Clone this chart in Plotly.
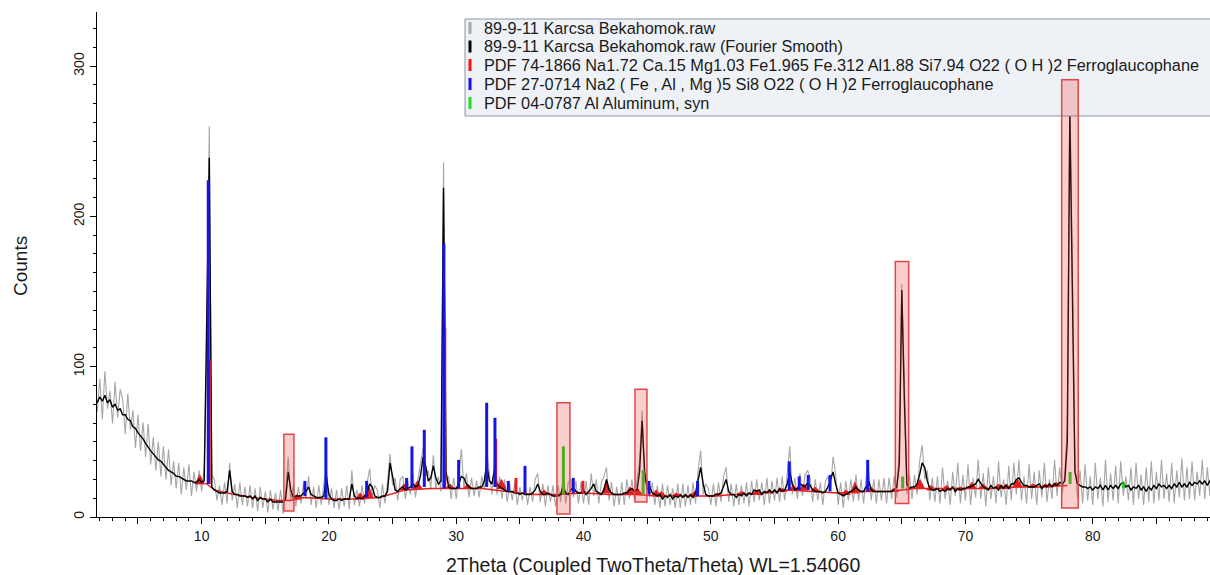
import numpy as np
import plotly.graph_objects as go

# ---------------- data ----------------
# 2theta grid: 1.8 .. 89.4 step 0.2
smooth_counts = [
    76, 80, 77, 81, 76, 78, 73, 75, 71, 72,      # 1.8-3.6
    68, 68, 65, 64, 60, 59, 56, 54, 52, 49,      # 3.8-5.6
    46, 44, 42, 40, 38, 37, 35, 33, 31, 30,      # 5.8-7.6
    29, 27, 27, 26, 25, 24, 24, 24, 23, 23,      # 7.8-9.6
    25, 23, 24, 120, 239, 20, 18, 17, 16, 16,    # 9.8-11.6
    16, 17, 31, 17, 15, 15, 14, 14, 14, 13,      # 11.8-13.6
    14, 12, 14, 11, 13, 12, 12, 10, 12, 10,      # 13.8-15.6
    10, 10, 10, 10, 12, 30, 18, 13, 14, 14,      # 15.8-17.6
    14, 16, 17, 20, 15, 14, 13, 13, 13, 14,      # 17.8-19.6
    27, 15, 12, 11, 11, 12, 11, 12, 12, 12,      # 19.8-21.6
    22, 14, 12, 13, 12, 14, 16, 22, 20, 14,      # 21.8-23.6
    13, 13, 14, 14, 17, 36, 28, 18, 17, 19,      # 23.8-25.6
    20, 18, 19, 20, 22, 20, 21, 28, 40, 34,      # 25.8-27.6
    24, 26, 34, 26, 22, 24, 219, 30, 20, 19,     # 27.8-29.6
    19, 19, 22, 27, 26, 22, 20, 19, 19, 19,      # 29.8-31.6
    20, 20, 24, 35, 24, 22, 31, 22, 20, 19,      # 31.8-33.6
    18, 17, 17, 17, 16, 16, 15, 16, 15, 15,      # 33.8-35.6
    15, 16, 18, 22, 17, 15, 15, 16, 15, 14,      # 35.8-37.6
    14, 14, 15, 21, 16, 15, 18, 20, 17, 16,      # 37.8-39.6
    16, 18, 15, 17, 19, 22, 17, 16, 15, 18,      # 39.8-41.6
    25, 18, 16, 15, 15, 15, 15, 16, 16, 18,      # 41.8-43.6
    19, 17, 18, 30, 64, 30, 18, 20, 16, 15,      # 43.8-45.6
    14, 15, 12, 14, 13, 15, 12, 14, 13, 15,      # 45.8-47.6
    13, 15, 13, 15, 13, 16, 24, 33, 22, 15,      # 47.8-49.6
    14, 14, 14, 15, 15, 16, 20, 25, 17, 15,      # 49.8-51.6
    15, 13, 15, 14, 16, 14, 16, 15, 18, 17,      # 51.8-53.6
    18, 15, 17, 16, 18, 16, 18, 16, 19, 17,      # 53.8-55.6
    18, 22, 30, 22, 18, 19, 22, 21, 20, 23,      # 55.8-57.6
    21, 18, 17, 17, 17, 16, 17, 20, 25, 30,      # 57.8-59.6
    22, 16, 15, 14, 15, 16, 17, 18, 20, 18,      # 59.8-61.6
    17, 17, 20, 24, 18, 17, 17, 17, 17, 17,      # 61.8-63.6
    17, 17, 17, 18, 20, 35, 151, 78, 22, 19,     # 63.8-65.6
    20, 20, 22, 28, 36, 33, 24, 19, 18, 18,      # 65.8-67.6
    19, 17, 18, 17, 19, 18, 20, 17, 19, 18,      # 67.8-69.6
    19, 19, 20, 20, 21, 22, 25, 22, 20, 19,      # 69.8-71.6
    18, 21, 19, 20, 18, 21, 19, 21, 19, 22,      # 71.8-73.6
    22, 25, 26, 23, 21, 21, 20, 20, 20, 21,      # 73.8-75.6
    22, 19, 21, 20, 22, 20, 22, 21, 23, 22,      # 75.8-77.6
    24, 50, 268, 150, 30, 22, 21, 20, 20, 19,    # 77.8-79.6
    20, 18, 20, 19, 21, 18, 21, 18, 21, 19,      # 79.8-81.6
    21, 19, 22, 23, 20, 21, 18, 20, 19, 21,      # 81.8-83.6
    18, 20, 17, 20, 18, 21, 19, 22, 20, 21,      # 83.8-85.6
    19, 21, 19, 22, 20, 23, 20, 22, 20, 23,      # 85.8-87.6
    21, 23, 22, 24, 22, 24, 21, 24, 22,          # 87.8-89.4
]

raw_counts = [
    70, 92, 65, 97, 72, 84, 62, 90, 66, 85,
    78, 55, 82, 58, 71, 46, 68, 44, 63, 40,
    62, 35, 53, 31, 50, 27, 47, 25, 45, 21,
    37, 19, 36, 15, 33, 18, 35, 14, 30, 17,
    31, 17, 33, 110, 260, 28, 25, 11, 21, 8,
    23, 9, 36, 11, 22, 6, 23, 8, 20, 7,
    21, 6, 19, 4, 20, 6, 17, 3, 18, 5,
    16, 4, 18, 2, 17, 40, 11, 21, 7, 20,
    9, 22, 12, 27, 8, 20, 6, 21, 8, 22,
    31, 8, 19, 6, 18, 5, 19, 7, 21, 5,
    31, 8, 18, 7, 21, 9, 23, 32, 13, 21,
    18, 6, 22, 9, 23, 42, 21, 26, 11, 25,
    27, 12, 24, 15, 29, 13, 26, 35, 46, 27,
    31, 19, 41, 19, 27, 17, 236, 24, 27, 12,
    26, 12, 31, 45, 19, 29, 13, 26, 14, 24,
    13, 27, 19, 45, 29, 15, 38, 15, 27, 12,
    25, 10, 22, 11, 23, 8, 20, 11, 23, 8,
    20, 10, 25, 29, 10, 22, 7, 21, 10, 21,
    7, 21, 10, 27, 9, 23, 25, 13, 24, 9,
    23, 9, 24, 8, 29, 14, 25, 9, 23, 27,
    33, 11, 23, 7, 20, 8, 23, 8, 25, 12,
    25, 11, 25, 37, 71, 23, 25, 13, 23, 8,
    21, 6, 22, 7, 21, 8, 19, 6, 22, 6,
    22, 7, 21, 8, 23, 9, 31, 44, 15, 22,
    19, 8, 22, 7, 23, 10, 27, 33, 10, 22,
    7, 22, 8, 21, 9, 23, 7, 24, 10, 25,
    11, 23, 8, 26, 9, 24, 11, 26, 10, 27,
    11, 29, 47, 15, 26, 12, 29, 14, 28, 31,
    26, 10, 25, 11, 23, 8, 24, 27, 18, 40,
    29, 8, 23, 6, 24, 11, 25, 10, 28, 11,
    25, 9, 27, 31, 11, 25, 9, 25, 11, 26,
    9, 26, 12, 27, 13, 45, 155, 90, 15, 28,
    12, 28, 15, 37, 48, 25, 31, 11, 26, 10,
    27, 9, 33, 12, 24, 8, 30, 14, 36, 9,
    28, 11, 35, 8, 26, 13, 38, 12, 29, 7,
    33, 12, 27, 9, 37, 13, 25, 8, 34, 11,
    36, 15, 38, 11, 27, 9, 35, 12, 30, 8,
    31, 13, 36, 10, 25, 12, 38, 14, 33, 15,
    28, 60, 285, 160, 36, 13, 31, 9, 35, 11,
    27, 8, 36, 12, 26, 7, 38, 10, 29, 11,
    34, 9, 37, 14, 27, 11, 33, 8, 36, 12,
    28, 8, 33, 10, 37, 9, 30, 11, 38, 12,
    29, 10, 36, 9, 31, 13, 39, 11, 33, 12,
    37, 11, 30, 14, 38, 12, 33, 14, 35,
]

two_theta = np.round(1.8 + 0.2 * np.arange(len(smooth_counts)), 1)

# PDF 27-0714 (blue) sticks
blue_pos  = [10.52, 18.11, 19.76, 22.96, 26.10, 26.52, 27.49, 29.03, 30.19, 32.39,
             33.04, 34.09, 35.40, 39.19, 45.14, 48.96, 56.16, 56.94, 57.65, 59.36, 62.32]
blue_base = [22, 14, 12, 13, 19, 19, 20, 19, 19, 20,
             20, 17, 16, 16, 15, 14, 18, 18, 18, 17, 17]
blue_top  = [224, 24, 53, 24, 26, 47, 58, 182, 38, 76,
             66, 24, 34, 26, 24, 24, 37, 27, 28, 28, 38]

# PDF 74-1866 (red) sticks
red_pos  = [10.60, 29.10, 33.10, 34.69, 39.95]
red_base = [22, 19, 20, 16, 16]
red_top  = [104, 126, 52, 26, 24]

red_bump_pos  = [9.85, 17.5, 22.45, 23.1, 25.9, 26.95, 29.5, 30.9, 33.55, 36.9,
                 41.81, 43.64, 44.25, 45.7, 46.1, 47.3, 48.7, 50.5, 52.4, 53.6,
                 54.6, 55.6, 56.5, 57.3, 58.2, 60.6, 61.32, 62.6, 64.4, 66.43,
                 67.3, 68.5, 69.6, 70.5, 71.4, 72.6, 73.2, 74.1, 75.3, 76.3, 77.1]
red_bump_base = [22, 12, 12, 13, 18, 19, 19, 19, 19, 15,
                 16, 15, 15, 14, 14, 14, 14, 14, 15, 15,
                 16, 17, 18, 18, 17, 15, 16, 17, 17, 19,
                 18, 18, 18, 19, 19, 19, 19, 20, 20, 20, 21]
red_bump_top  = [28, 15, 16, 21, 22, 24, 22, 22, 25, 18,
                 24, 20, 19, 18, 17, 16, 17, 16, 17, 18,
                 18, 19, 21, 22, 20, 18, 23, 20, 19, 25,
                 21, 21, 20, 23, 22, 22, 22, 25, 22, 22, 23]

red_bg_x = [9.5, 10.4, 11, 12, 14, 16, 17, 18, 20, 22, 24, 26, 28, 30, 32, 34, 36, 38, 40,
            42, 44, 46, 48, 50, 52, 54, 56, 58, 60, 62, 64, 66, 68, 70, 72, 74, 76, 78]
red_bg_y = [23, 22, 18, 16, 13, 11, 11, 13, 12, 12, 13, 18, 19, 19, 19, 17, 15, 15, 16,
            15, 15, 14, 14, 14, 15, 16, 18, 17, 16, 17, 17, 19, 19, 19, 19, 20, 20, 21]

# PDF 04-0787 Al (green) sticks
green_pos  = [38.42, 44.68, 65.07, 78.22, 82.40]
green_base = [15, 15, 19, 22, 19]
green_top  = [47, 31, 27, 30, 23]

# highlighted regions (red boxes)
box_x0 = [16.46, 37.91, 44.04, 64.49, 77.56]
box_x1 = [17.25, 38.93, 44.98, 65.54, 78.86]
box_y0 = [4, 2, 10, 9, 6]
box_y1 = [55, 76, 85, 170, 291]

legend_labels = [
    "89-9-11 Karcsa Bekahomok.raw",
    "89-9-11 Karcsa Bekahomok.raw (Fourier Smooth)",
    "PDF 74-1866 Na1.72 Ca.15 Mg1.03 Fe1.965 Fe.312 Al1.88 Si7.94 O22 ( O H )2 Ferroglaucophane",
    "PDF 27-0714 Na2 ( Fe , Al , Mg )5 Si8 O22 ( O H )2 Ferroglaucophane",
    "PDF 04-0787 Al Aluminum, syn",
]
legend_colors = ["#a8a8a8", "#000000", "#ff1010", "#1010ff", "#20dd20"]

x_tick_vals = [5, 10, 15, 20, 25, 30, 35, 40, 45, 50, 55, 60, 65, 70, 75, 80, 85]
x_tick_text = ["", "10", "", "20", "", "30", "", "40", "", "50", "", "60", "", "70", "", "80", ""]
y_tick_vals = [0, 100, 200, 300]

# ---------------- figure ----------------
RED = "#e81e1e"
BLUE = "#1414e6"
GREEN = "#22cc22"


def sticks(pos, base, top):
    sx, sy = [], []
    for p, b, t in zip(pos, base, top):
        sx += [p, p, None]
        sy += [b, t, None]
    return sx, sy


def bumps(pos, base, top, hw=0.35):
    tx, ty = [], []
    for p, b, t in zip(pos, base, top):
        tx += [p - hw, p, p + hw, p - hw, None]
        ty += [b, t, b, b, None]
    return tx, ty


fig = go.Figure()
fig.add_trace(go.Scatter(x=two_theta, y=raw_counts, mode="lines",
                         line=dict(color="#a6a6a6", width=1.1), hoverinfo="skip"))
fig.add_trace(go.Scatter(x=red_bg_x, y=red_bg_y, mode="lines",
                         line=dict(color=RED, width=1.4), hoverinfo="skip"))
bx, by = bumps(red_bump_pos, red_bump_base, red_bump_top)
fig.add_trace(go.Scatter(x=bx, y=by, mode="lines", fill="toself", fillcolor=RED,
                         line=dict(color=RED, width=1), hoverinfo="skip"))
fig.add_trace(go.Scatter(x=two_theta, y=smooth_counts, mode="lines",
                         line=dict(color="#000000", width=1.4), hoverinfo="skip"))
sx, sy = sticks(red_pos, red_base, red_top)
fig.add_trace(go.Scatter(x=sx, y=sy, mode="lines", line=dict(color=RED, width=3), hoverinfo="skip"))
sx, sy = sticks(blue_pos, blue_base, blue_top)
fig.add_trace(go.Scatter(x=sx, y=sy, mode="lines", line=dict(color=BLUE, width=3), hoverinfo="skip"))
sx, sy = sticks(green_pos, green_base, green_top)
fig.add_trace(go.Scatter(x=sx, y=sy, mode="lines", line=dict(color=GREEN, width=3), hoverinfo="skip"))

shapes = []
annotations = []

# manual legend (pixel positions converted to paper coords)
L, T, PW, PH = 97, 12, 1113, 505


def px2paper_x(px):
    return (px - L) / PW


def px2paper_y(py):
    return (T + PH - py) / PH


shapes.append(dict(type="rect", xref="paper", yref="paper",
                   x0=px2paper_x(465), x1=px2paper_x(1215),
                   y0=px2paper_y(116), y1=px2paper_y(19),
                   fillcolor="#eef2f7", line=dict(color="#8a96a3", width=1), layer="above"))
row_y = [28, 46.5, 65, 84, 103]
for lab, col, ry in zip(legend_labels, legend_colors, row_y):
    shapes.append(dict(type="line", xref="paper", yref="paper",
                       x0=px2paper_x(470), x1=px2paper_x(470),
                       y0=px2paper_y(ry + 6), y1=px2paper_y(ry - 6),
                       line=dict(color=col, width=3), layer="above"))
    annotations.append(dict(xref="paper", yref="paper", x=px2paper_x(482), y=px2paper_y(ry),
                            xanchor="left", yanchor="middle", showarrow=False, text=lab,
                            font=dict(size=16.3, color="#1a1a1a")))

for x0, x1, y0, y1 in zip(box_x0, box_x1, box_y0, box_y1):
    shapes.append(dict(type="rect", xref="x", yref="y", x0=x0, x1=x1, y0=y0, y1=y1,
                       fillcolor="rgba(240,60,60,0.25)", line=dict(color="#e04848", width=1.5),
                       layer="above"))

annotations.append(dict(xref="paper", yref="paper", x=px2paper_x(653), y=px2paper_y(565),
                        xanchor="center", yanchor="middle", showarrow=False,
                        text="2Theta (Coupled TwoTheta/Theta) WL=1.54060",
                        font=dict(size=19.5, color="#1a1a1a")))
annotations.append(dict(xref="paper", yref="paper", x=px2paper_x(20), y=px2paper_y(266),
                        xanchor="center", yanchor="middle", showarrow=False, textangle=-90,
                        text="Counts", font=dict(size=19, color="#1a1a1a")))

fig.update_layout(
    width=1210, height=575,
    margin=dict(l=L, r=0, t=T, b=575 - T - PH),
    paper_bgcolor="white", plot_bgcolor="white",
    showlegend=False,
    font=dict(family="Arial, Liberation Sans, sans-serif", color="#1a1a1a"),
    shapes=shapes, annotations=annotations,
    xaxis=dict(range=[1.78, 89.21], showgrid=False, zeroline=False,
               showline=True, linecolor="#000", linewidth=1,
               ticks="outside", ticklen=6, tickcolor="#000",
               tickmode="array", tickvals=x_tick_vals, ticktext=x_tick_text,
               tickfont=dict(size=14, color="#1a1a1a"),
               minor=dict(tickmode="linear", tick0=0, dtick=1, ticks="outside",
                          ticklen=3, tickcolor="#000")),
    yaxis=dict(range=[0, 336], showgrid=False, zeroline=False,
               showline=True, linecolor="#000", linewidth=1,
               ticks="outside", ticklen=6, tickcolor="#000",
               tickmode="array", tickvals=y_tick_vals, tickangle=-90,
               tickfont=dict(size=14, color="#1a1a1a"),
               minor=dict(tickmode="linear", tick0=0, dtick=12.5, ticks="outside",
                          ticklen=3, tickcolor="#000")),
)

fig.write_html("out.html")
